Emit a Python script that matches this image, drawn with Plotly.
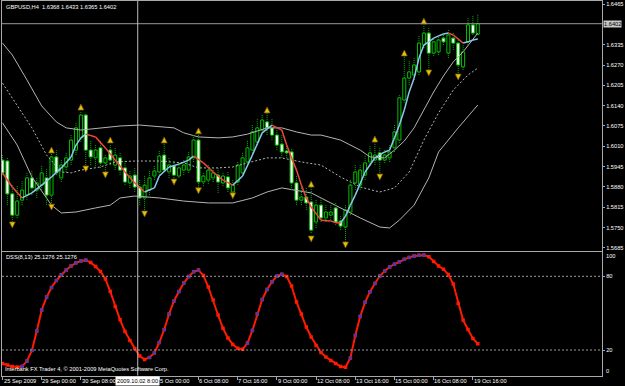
import plotly.graph_objects as go

# ---------------- data ----------------
bars = list(range(98))
opens = [1.5966,1.5963,1.5858,1.5790,1.5838,1.5854,1.5909,1.5870,1.5886,1.5909,
         1.5854,1.5976,1.5909,1.5944,1.5966,1.5998,1.6037,1.6110,1.5998,1.5973,
         1.6005,1.5957,1.5998,1.5950,1.5973,1.5941,1.5893,1.5918,1.5880,1.5845,
         1.5870,1.5915,1.5928,1.5982,1.5928,1.5947,1.5915,1.5934,1.5934,1.5973,
         1.6030,1.5896,1.5902,1.5909,1.5918,1.5893,1.5912,1.5864,1.5896,1.5925,
         1.5960,1.5998,1.6024,1.6062,1.6088,1.6069,1.6046,1.6017,1.5995,1.5992,
         1.5893,1.5838,1.5848,1.5832,1.5768,1.5822,1.5781,1.5790,1.5813,1.5771,
         1.5752,1.5800,1.5893,1.5886,1.5918,1.5960,1.5966,1.5989,1.5966,1.5973,
         1.6005,1.6030,1.6158,1.6228,1.6238,1.6248,1.6334,1.6372,1.6308,1.6312,
         1.6356,1.6308,1.6356,1.6340,1.6264,1.6344,1.6398,1.6368]
highs = [1.5982,1.5973,1.5886,1.5886,1.5902,1.5928,1.5934,1.5909,1.5950,1.5941,
         1.5992,1.5998,1.5966,1.5992,1.6046,1.6088,1.6120,1.6117,1.6030,1.6014,
         1.6030,1.5982,1.6014,1.6005,1.5992,1.5966,1.5934,1.5941,1.5902,1.5918,
         1.5934,1.5950,1.5998,1.6024,1.5973,1.5966,1.5957,1.5966,1.5992,1.6046,
         1.6049,1.5928,1.5950,1.5941,1.5941,1.5928,1.5928,1.5902,1.5960,1.5992,
         1.6030,1.6078,1.6101,1.6110,1.6120,1.6101,1.6069,1.6046,1.6014,1.6005,
         1.5918,1.5886,1.5877,1.5880,1.5838,1.5845,1.5822,1.5822,1.5829,1.5790,
         1.5822,1.5902,1.5950,1.5950,1.5982,1.6014,1.6024,1.6005,1.5998,1.6014,
         1.6078,1.6174,1.6302,1.6286,1.6292,1.6366,1.6398,1.6388,1.6356,1.6366,
         1.6375,1.6382,1.6372,1.6356,1.6334,1.6423,1.6430,1.6433]
lows = [1.5918,1.5822,1.5768,1.5781,1.5822,1.5838,1.5854,1.5845,1.5870,1.5822,
        1.5822,1.5918,1.5896,1.5928,1.5950,1.5982,1.6024,1.5944,1.5950,1.5941,
        1.5941,1.5928,1.5950,1.5934,1.5918,1.5886,1.5877,1.5864,1.5822,1.5806,
        1.5854,1.5902,1.5918,1.5928,1.5909,1.5902,1.5909,1.5918,1.5925,1.5960,
        1.5870,1.5883,1.5890,1.5896,1.5861,1.5883,1.5864,1.5858,1.5886,1.5915,
        1.5950,1.5989,1.6014,1.6053,1.6046,1.6030,1.5998,1.5973,1.5973,1.5870,
        1.5822,1.5822,1.5806,1.5733,1.5749,1.5768,1.5768,1.5774,1.5758,1.5742,
        1.5704,1.5790,1.5870,1.5870,1.5902,1.5947,1.5950,1.5918,1.5957,1.5960,
        1.5992,1.6021,1.6149,1.6206,1.6222,1.6238,1.6324,1.6248,1.6299,1.6302,
        1.6334,1.6292,1.6318,1.6238,1.6254,1.6334,1.6366,1.6365]
closes = [1.5925,1.5858,1.5790,1.5835,1.5870,1.5909,1.5877,1.5893,1.5925,1.5854,
          1.5976,1.5925,1.5950,1.5973,1.6030,1.6069,1.6110,1.5998,1.5976,1.5998,
          1.5957,1.5973,1.5966,1.5982,1.5934,1.5896,1.5915,1.5880,1.5845,1.5886,
          1.5909,1.5931,1.5979,1.5934,1.5950,1.5918,1.5941,1.5950,1.5976,1.6030,
          1.5896,1.5915,1.5934,1.5925,1.5896,1.5915,1.5877,1.5886,1.5950,1.5973,
          1.6005,1.6056,1.6069,1.6094,1.6069,1.6046,1.6014,1.5992,1.5989,1.5893,
          1.5838,1.5848,1.5829,1.5742,1.5822,1.5781,1.5800,1.5800,1.5768,1.5755,
          1.5806,1.5886,1.5928,1.5934,1.5957,1.5989,1.5982,1.5966,1.5982,1.5992,
          1.6056,1.6165,1.6228,1.6248,1.6270,1.6340,1.6372,1.6308,1.6344,1.6350,
          1.6344,1.6366,1.6340,1.6270,1.6312,1.6398,1.6372,1.6402]

band_up_idx = [0,2,5,8,11,13,16,20,24,28,32,35,37,40,44,47,50,54,57,60,63,65,69,73,75,78,80,82,84,86,88,90,92,94,96,97]
band_up = [1.6340,1.6302,1.6222,1.6139,1.6088,1.6069,1.6062,1.6069,1.6075,1.6078,1.6072,1.6069,1.6053,1.6040,
           1.6037,1.6040,1.6049,1.6069,1.6069,1.6056,1.6046,1.6046,1.6030,1.5998,1.5976,1.5973,1.5998,1.6027,
           1.6069,1.6126,1.6184,1.6235,1.6280,1.6312,1.6350,1.6372]
band_mid_idx = [0,3,6,9,12,14,16,20,23,27,32,37,40,44,47,50,54,57,61,65,69,73,77,80,83,86,89,92,95,97]
band_mid = [1.6212,1.6142,1.6069,1.5982,1.5928,1.5925,1.5934,1.5944,1.5960,1.5963,1.5963,1.5957,1.5941,1.5941,
            1.5944,1.5957,1.5973,1.5973,1.5960,1.5950,1.5912,1.5880,1.5864,1.5877,1.5928,1.6030,1.6117,1.6190,
            1.6238,1.6260]
band_lo_idx = [0,3,6,10,12,15,19,22,24,27,32,37,42,47,51,54,57,60,63,65,69,73,77,79,81,84,87,89,93,97]
band_lo = [1.6085,1.6014,1.5912,1.5822,1.5797,1.5800,1.5813,1.5822,1.5845,1.5851,1.5845,1.5835,1.5829,1.5829,
           1.5845,1.5864,1.5877,1.5870,1.5861,1.5845,1.5813,1.5781,1.5752,1.5749,1.5774,1.5822,1.5909,1.5992,
           1.6069,1.6142]

ma_idx = [0,2,4,6,8,10,12,14,15,16,17,19,21,23,25,27,29,31,32,34,36,38,39,41,43,45,47,49,51,53,
          55,57,58,59,60,61,62,63,65,67,68,69,70,71,72,74,76,78,79,80,81,82,83,84,85,86,87,88,89,90,
          91,92,93,94,95,96,97]
ma_val = [1.5925,1.5880,1.5845,1.5861,1.5886,1.5912,1.5941,1.5976,1.6014,1.6037,
          1.6049,1.6040,1.6005,1.5966,1.5928,1.5893,1.5864,1.5877,1.5915,1.5944,
          1.5953,1.5966,1.5979,1.5957,1.5928,1.5902,1.5886,1.5915,1.5982,1.6053,
          1.6078,1.6062,1.6014,1.5973,1.5934,1.5886,1.5845,1.5816,1.5774,1.5771,
          1.5766,1.5765,1.5787,1.5822,1.5854,1.5928,1.5973,1.5992,1.5998,1.6037,
          1.6078,1.6126,1.6184,1.6228,1.6292,1.6334,1.6344,1.6356,1.6363,1.6369,
          1.6372,1.6366,1.6353,1.6340,1.6344,1.6350,1.6353]

frac_up_idx = [10,16,22,33,40,54,63,76,82,86]
frac_up = [1.6008,1.6145,1.6040,1.6040,1.6069,1.6136,1.5899,1.6043,1.6318,1.6420]
frac_dn_idx = [2,10,17,21,29,35,40,47,63,70,77,87,93]
frac_dn = [1.5749,1.5806,1.5928,1.5909,1.5784,1.5886,1.5858,1.5842,1.5704,1.5685,1.5902,1.6235,1.6222]

dss = [9.0,7.8,6.6,6.2,6.6,11.0,19.6,35.5,52.6,63.1,
       70.9,76.6,81.2,85.1,88.4,91.0,92.5,93.1,91.2,88.0,
       83.9,77.8,67.6,55.4,44.6,35.1,27.7,21.2,15.1,12.3,
       13.9,17.6,26.1,36.7,49.3,59.9,67.6,74.5,79.8,83.7,
       85.1,80.7,71.3,60.7,48.5,37.7,29.8,24.5,21.4,20.6,
       25.7,35.9,49.3,61.1,69.3,75.5,80.1,81.6,79.8,72.1,
       59.1,49.3,38.7,30.6,23.7,18.0,14.3,11.5,9.0,6.6,
       5.9,13.5,31.8,47.3,58.8,67.5,74.2,80.2,84.3,87.6,
       89.9,91.8,93.8,95.4,96.5,97.1,97.3,96.0,92.0,88.4,
       85.8,81.5,73.7,57.9,44.4,36.7,29.4,25.1276]
dss_levels = [80, 20]

time_tick_idx = [0,8,16,24,32,40,48,56,64,72,80,88,96]
time_tick_text = ["25 Sep 2009","29 Sep 00:00","30 Sep 08:00","1 Oct 16:00","5 Oct 00:00","6 Oct 08:00",
                  "7 Oct 16:00","9 Oct 00:00","12 Oct 08:00","13 Oct 16:00","15 Oct 00:00","16 Oct 08:00",
                  "19 Oct 16:00"]
price_ticks = [1.6465,1.6335,1.6270,1.6205,1.6140,1.6075,1.6010,1.5945,1.5880,1.5815,1.5750,1.5685]
cursor_idx = 27.6
cursor_label = "2009.10.02 8:00"
symbol_name = "GBPUSD,H4"
dss_name = "DSS(8,13)"
copyright_text = "Interbank FX Trader 4, © 2001-2009 MetaQuotes Software Corp."

# ---------------- style / layout helpers ----------------
W, H = 625, 386
def px(x):
    return x / W
def py(y):
    return 1 - y / H

FONT = "Liberation Sans"
FS = 5.7
FRAME = "#A8A8A8"
GREEN = "#00C000"
WICK = "#00B000"
BAND = "#B4B4B4"

fig = go.Figure()

# bands
for bx, by, dash in [(band_up_idx, band_up, "solid"), (band_lo_idx, band_lo, "solid"),
                     (band_mid_idx, band_mid, "2px,2px")]:
    fig.add_trace(go.Scatter(x=bx, y=by, mode="lines", line=dict(color=BAND, width=1, dash=dash),
                             hoverinfo="skip"))

# wicks (split so they do not cross the bodies)
wx, wy = [], []
for i, o, h, l, c in zip(bars, opens, highs, lows, closes):
    top, bot = max(o, c), min(o, c)
    wx += [i, i, None, i, i, None]
    wy += [top, h, None, l, bot, None]
fig.add_trace(go.Scatter(x=wx, y=wy, mode="lines", line=dict(color=WICK, width=1, dash="1px,1px"),
                         hoverinfo="skip"))

# bodies
base = [min(o, c) for o, c in zip(opens, closes)]
height = [max(abs(c - o), 0.00005) for o, c in zip(opens, closes)]
fill = ["#000000" if c >= o else "#FFFFFF" for o, c in zip(opens, closes)]
fig.add_trace(go.Bar(x=bars, y=height, base=base, width=0.62,
                     marker=dict(color=fill, line=dict(color=GREEN, width=1)), hoverinfo="skip"))

# colour-changing moving average
rx, ry, bx_, by_ = [], [], [], []
for k in range(1, len(ma_idx)):
    sx = [ma_idx[k - 1], ma_idx[k], None]
    sy = [ma_val[k - 1], ma_val[k], None]
    if ma_val[k] < ma_val[k - 1]:
        rx += sx; ry += sy
    else:
        bx_ += sx; by_ += sy
fig.add_trace(go.Scatter(x=bx_, y=by_, mode="lines", line=dict(color="#8CC8EE", width=1.5), hoverinfo="skip"))
fig.add_trace(go.Scatter(x=rx, y=ry, mode="lines", line=dict(color="#F2473A", width=1.5), hoverinfo="skip"))

# fractals
fig.add_trace(go.Scatter(x=frac_up_idx, y=frac_up, mode="markers",
                         marker=dict(symbol="arrow-up", size=6, color="#E6C20E",
                                     line=dict(color="#6E5200", width=0.7)), hoverinfo="skip"))
fig.add_trace(go.Scatter(x=frac_dn_idx, y=frac_dn, mode="markers",
                         marker=dict(symbol="arrow-down", size=6, color="#E6C20E",
                                     line=dict(color="#6E5200", width=0.7)), hoverinfo="skip"))

# DSS panel
fig.add_trace(go.Scatter(x=bars, y=dss, mode="lines+markers", xaxis="x2", yaxis="y2",
                         line=dict(color="#FF1A00", width=2),
                         marker=dict(color="#FF1A00", size=3.5, symbol="square"), hoverinfo="skip"))
rise_x = [bars[k] for k in range(1, len(dss)) if dss[k] > dss[k - 1]]
rise_y = [dss[k] for k in range(1, len(dss)) if dss[k] > dss[k - 1]]
fig.add_trace(go.Scatter(x=rise_x, y=rise_y, mode="markers", xaxis="x2", yaxis="y2",
                         marker=dict(color="#4B38B4", size=3.2, symbol="square"), hoverinfo="skip"))

main_lo = 1.64778 - 0.0003197 * 251
main_hi = 1.64778 - 0.0003197 * 1
dss_lo = 20 - (375.5 - 350) / 1.2283
dss_hi = 20 + (350 - 252) / 1.2283

axis_common = dict(showgrid=False, zeroline=False, showline=True, linecolor=FRAME, linewidth=1, mirror=True)
tfont = dict(family=FONT, size=FS, color="white")

fig.update_layout(
    width=W, height=H, margin=dict(l=0, r=0, t=0, b=0),
    paper_bgcolor="black", plot_bgcolor="black", showlegend=False,
    xaxis=dict(domain=[px(2), px(602)], range=[-0.1, 122.35], anchor="y", showticklabels=False,
               ticks="", **axis_common),
    yaxis=dict(domain=[py(251), py(1)], range=[main_lo, main_hi], anchor="x", side="right",
               tickvals=price_ticks, ticktext=[f"{v:.4f}" for v in price_ticks],
               ticks="outside", ticklen=2, tickcolor=FRAME, tickfont=tfont, **axis_common),
    xaxis2=dict(domain=[px(2), px(602)], matches="x", anchor="y2", showticklabels=False,
                ticks="outside", ticklen=3, tickcolor=FRAME, tickvals=time_tick_idx, **axis_common),
    yaxis2=dict(domain=[py(375.5), py(252)], range=[dss_lo, dss_hi], anchor="x2", side="right",
                tickvals=dss_levels, ticktext=[str(v) for v in dss_levels],
                ticks="outside", ticklen=2, tickcolor=FRAME, tickfont=tfont, **axis_common),
)

shapes = []
# bid line
shapes.append(dict(type="line", xref="x domain", x0=0, x1=1, yref="y", y0=closes[-1], y1=closes[-1],
                   line=dict(color="#9A9A9A", width=1)))
# DSS level lines
for lv in dss_levels:
    shapes.append(dict(type="line", xref="x2 domain", x0=0, x1=1, yref="y2", y0=lv, y1=lv,
                       line=dict(color="#9A9A9A", width=1, dash="2px,2px")))
# crosshair
shapes.append(dict(type="line", xref="x", x0=cursor_idx, x1=cursor_idx, yref="paper",
                   y0=py(375.5), y1=py(1), line=dict(color="#BDBDBD", width=1)))
fig.update_layout(shapes=shapes)

ann = []
ann.append(dict(text=f"{symbol_name}&nbsp; {opens[-1]:.4f} {highs[-1]:.4f} {lows[-1]:.4f} {closes[-1]:.4f}",
                xref="paper", yref="paper", x=px(4), y=py(7), xanchor="left", yanchor="middle",
                showarrow=False, font=tfont))
ann.append(dict(text=f"{dss_name} {dss[-1]:.4f} {dss[-1]:.4f}", xref="paper", yref="paper",
                x=px(4), y=py(257), xanchor="left", yanchor="middle", showarrow=False, font=tfont))
ann.append(dict(text=copyright_text, xref="paper", yref="paper", x=px(3), y=py(369),
                xanchor="left", yanchor="middle", showarrow=False, font=tfont))
ann.append(dict(text="100", xref="paper", yref="paper", x=px(604), y=py(256), xanchor="left",
                yanchor="middle", showarrow=False, font=tfont))
ann.append(dict(text="0", xref="paper", yref="paper", x=px(604), y=py(371), xanchor="left",
                yanchor="middle", showarrow=False, font=tfont))
# current price box
ann.append(dict(text=f"{closes[-1]:.4f}", xref="paper", yref="y", x=px(603), y=closes[-1],
                xanchor="left", yanchor="middle", showarrow=False, bgcolor="#C8C8C8", borderpad=0,
                font=dict(family=FONT, size=FS, color="black")))
# time labels (the one fully under the crosshair box is hidden, as in the terminal)
for ti, tt in zip(time_tick_idx, time_tick_text):
    if abs(ti - cursor_idx) < 4:
        continue
    ann.append(dict(text=tt, xref="x2", yref="paper", x=max(ti - 0.25, 0.0), y=py(381), xanchor="left",
                    yanchor="middle", showarrow=False, font=tfont))
# crosshair time box (drawn last so it covers the start of the next label)
ann.append(dict(text=cursor_label, xref="x2", yref="paper", x=cursor_idx, y=py(381), xanchor="center",
                yanchor="middle", showarrow=False, bgcolor="white", borderpad=1,
                font=dict(family=FONT, size=FS, color="black")))
fig.update_layout(annotations=ann)

fig.write_html("out.html")
